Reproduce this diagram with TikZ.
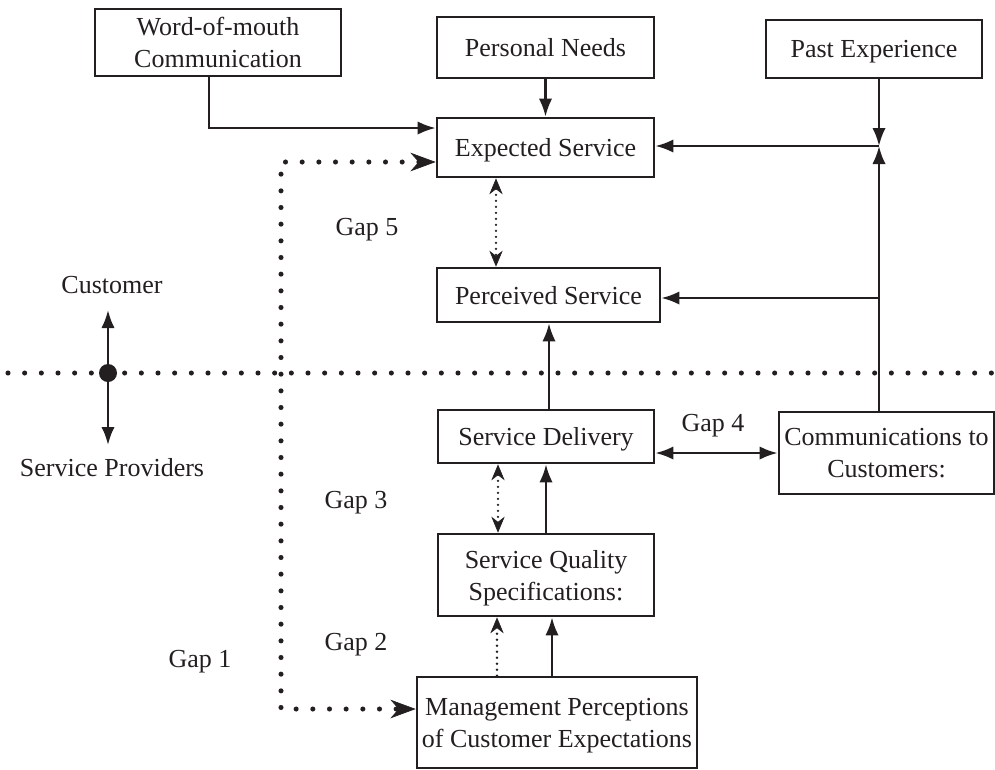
\documentclass[tikz,border=0pt]{standalone}
\usepackage{fontspec}
\setmainfont{Liberation Serif}
\usetikzlibrary{arrows.meta}
\definecolor{ink}{HTML}{231F20}
\begin{document}
\begin{tikzpicture}[x=0.75pt,y=-0.75pt,
  txt/.style={text=ink, font=\fontsize{19.5}{24}\selectfont, inner sep=0pt, align=center},
  box/.style 2 args={txt, text depth=0pt, draw=ink, line width=2pt, minimum width=#1*0.75pt, minimum height=#2*0.75pt},
  conn/.style={draw=ink, line width=1.9pt, -{Latex[length=13.5pt,width=10pt]}},
  conn2/.style={draw=ink, line width=1.9pt, {Latex[length=13.5pt,width=10pt]}-{Latex[length=13.5pt,width=10pt]}},
  bigdots/.style={draw=ink, line width=3.8pt, line cap=round, dash pattern=on 0pt off 12.5pt},
  smalldots/.style={draw=ink, line width=2pt, line cap=round, dash pattern=on 0pt off 4.5pt},
  stip/.style={{Stealth[length=12pt,width=10pt,line width=0.5pt]}-{Stealth[length=12pt,width=10pt,line width=0.5pt]}},
  stipone/.style={-{Stealth[length=12pt,width=10pt,line width=0.5pt]}},
  btip/.style={{Stealth[length=19pt,width=14pt,line width=0.5pt]}-{Stealth[length=19pt,width=14pt,line width=0.5pt]}}
]
\useasboundingbox (0,0) rectangle (995,769);

% boxes
\node[box={246}{67}] (wom) at (218,42.5) {Word-of-mouth\\Communication};
\node[box={217}{61}] (pn) at (545.5,47.5) {Personal Needs};
\node[box={216}{58}] (pe) at (874,49) {Past Experience};
\node[box={217}{59}] (es) at (545.5,147.5) {Expected Service};
\node[box={223}{54}] (ps) at (548.5,295) {Perceived Service};
\node[box={216}{53}] (sd) at (546,436.5) {Service Delivery};
\node[box={216}{82}] (sq) at (546,575) {Service Quality\\Specifications:};
\node[box={280}{91}] (mp) at (557,722.5) {Management Perceptions\\of Customer Expectations};
\node[box={215}{82}] (cc) at (886.5,453) {Communications to\\Customers:};

% labels
\node[txt] (cust) at (112,285) {Customer};
\node[txt] (prov) at (112,468) {Service Providers};
\node[txt] (g5l) at (367,230) {Gap 5};
\node[txt] (g4l) at (713,426) {Gap 4};
\node[txt] (g3l) at (356,503) {Gap 3};
\node[txt] (g2l) at (356,645) {Gap 2};
\node[txt] (g1l) at (200,662) {Gap 1};

% customer / provider divider
\coordinate (hl) at (8,373);
\coordinate (hr) at (995,373);
\draw[bigdots] (hl) -- (hr);
\node[circle, fill=ink, minimum size=13.5pt, inner sep=0pt] (dot) at (108,373) {};
\coordinate (up) at (108,310);
\coordinate (dn) at (108,445);
\draw[conn] (dot) -- (up);
\draw[conn] (dot) -- (dn);

% gap 1 dotted path
\coordinate (g1t) at (281,162);
\coordinate (g1b) at (281,709);
\draw[bigdots, btip] (es.west |- g1t) -- (g1t) -- (g1b) -- (mp.west |- g1b);

% word of mouth
\coordinate (w1) at (209,128);
\draw[conn] (wom.south -| w1) -- (w1) -- (es.west |- w1);

% personal needs
\draw[conn] (pn) -- (es);

% past experience junction
\coordinate (j) at (879,146);
\coordinate (k) at (879,298);
\draw[conn] (pe.south -| j) -- (j);
\draw[conn] (cc.north -| j) -- (j);
\draw[conn] (j) -- (es.east |- j);
\draw[conn] (k) -- (ps.east |- k);

% gap 5
\coordinate (x5) at (496,0);
\draw[smalldots, stip] (es.south -| x5) -- (ps.north -| x5);

% delivery to perceived
\coordinate (xd) at (549,0);
\draw[conn] (sd.north -| xd) -- (ps.south -| xd);

% gap 4
\draw[conn2] (sd.east |- cc.west) -- (cc.west);

% gap 3
\coordinate (x3a) at (498,0);
\coordinate (x3b) at (546,0);
\draw[smalldots, stip] (sd.south -| x3a) -- (sq.north -| x3a);
\draw[conn] (sq.north -| x3b) -- (sd.south -| x3b);

% gap 2
\coordinate (x2a) at (497,0);
\coordinate (x2b) at (552,0);
\draw[smalldots, stipone] (mp.north -| x2a) -- (sq.south -| x2a);
\draw[conn] (mp.north -| x2b) -- (sq.south -| x2b);
\end{tikzpicture}
\end{document}
